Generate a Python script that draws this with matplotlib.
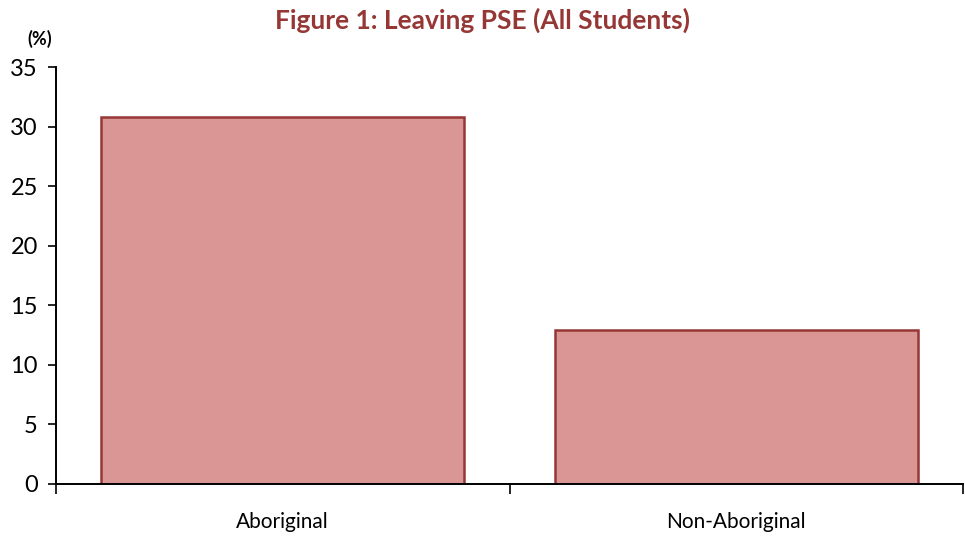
import matplotlib.pyplot as plt
import numpy as np

categories = ['Aboriginal', 'Non-Aboriginal']
leaving_pct = [30.8, 12.9]
y_ticks = [0, 5, 10, 15, 20, 25, 30, 35]

plt.rcParams['font.family'] = ['Lato', 'DejaVu Sans']

fig = plt.figure(figsize=(9.65, 5.37), dpi=100)
ax = fig.add_axes([0.058, 0.099, 0.940, 0.776])

x = np.arange(len(categories))
ax.bar(x, leaving_pct, width=0.8, color='#D99694', edgecolor='#953735', linewidth=1.8)

ax.set_xlim(-0.5, len(categories) - 0.5)
ax.set_ylim(0, 35)
ax.set_yticks(y_ticks)
ax.tick_params(axis='y', direction='out', length=6, width=1.2, labelsize=17, pad=7)

# category boundaries get the tick marks, names sit between them
ax.set_xticks(np.arange(len(categories) + 1) - 0.5)
ax.set_xticklabels([])
ax.set_xticks(x, minor=True)
ax.set_xticklabels(categories, minor=True, fontsize=15)
ax.tick_params(axis='x', which='major', direction='out', length=7, width=1.2)
ax.tick_params(axis='x', which='minor', length=0, pad=20)

for side in ['top', 'right']:
    ax.spines[side].set_visible(False)
for side in ['left', 'bottom']:
    ax.spines[side].set_linewidth(1.4)

fig.text(0.5, 0.962, 'Figure 1: Leaving PSE (All Students)', ha='center', va='center',
         fontsize=19, fontweight='bold', color='#953735')
fig.text(0.041, 0.928, '(%)', ha='center', va='center', fontsize=13, fontweight='bold')

fig.savefig('out.png', dpi=100)
